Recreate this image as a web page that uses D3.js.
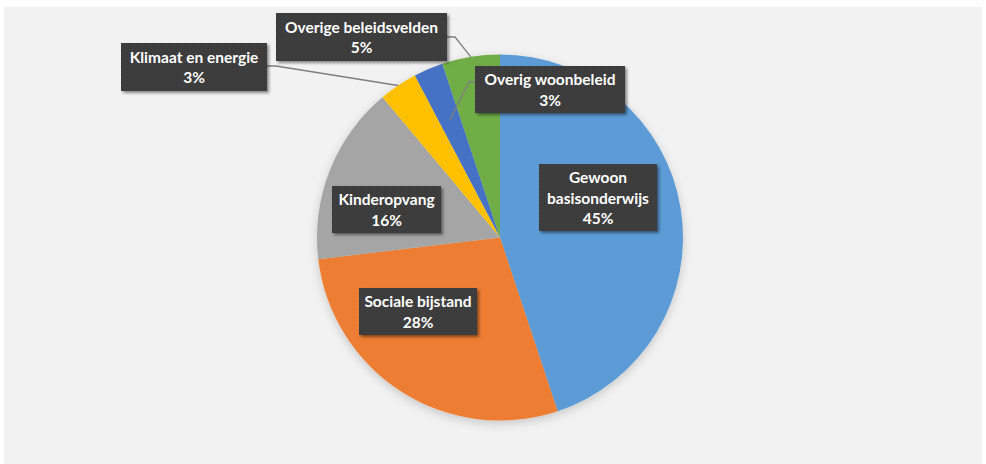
<!DOCTYPE html>
<html><head><meta charset="utf-8">
<script src="https://cdn.jsdelivr.net/npm/d3@7"></script>
<style>
html,body{margin:0;padding:0;background:#fff;}
svg{display:block;}
</style></head>
<body>
<svg id="chart" width="986" height="464"></svg>
<script>
// ---- data ----
const categories = ["Gewoon basisonderwijs","Sociale bijstand","Kinderopvang","Klimaat en energie","Overig woonbeleid","Overige beleidsvelden"];
const labelLines = [["Gewoon","basisonderwijs"],["Sociale bijstand"],["Kinderopvang"],["Klimaat en energie"],["Overig woonbeleid"],["Overige beleidsvelden"]];
const values = [44.9, 28.2, 15.8, 3.4, 2.6, 5.1];
const colors = ["#5B9BD5","#ED7D31","#A5A5A5","#FFC000","#4472C4","#70AD47"];

// ---- layout ----
const W = 986, H = 464;
const cx = 500, cy = 237.5, R = 183;
const boxes = [
  {x:539, y:164, w:118, h:67},
  {x:359, y:288, w:118, h:47},
  {x:332, y:186, w:109, h:47},
  {x:121, y:43,  w:146, h:48},
  {x:475, y:66,  w:150, h:47},
  {x:276, y:13,  w:171, h:48}
];
// leader: [start point on box, elbow, radius factor for anchor]
const leaders = [null, null, null,
  {p:[267,66], e:[276,66], rf:1.0},
  {p:[475,82], e:[469,82], rf:0.7},
  {p:[447,37], e:[455,37], rf:1.0}
];

const svg = d3.select("#chart");
const defs = svg.append("defs");
const pat = defs.append("pattern").attr("id","dots").attr("width",4).attr("height",4).attr("patternUnits","userSpaceOnUse");
pat.append("rect").attr("width",4).attr("height",4).attr("fill","#3b3b3b");
pat.append("rect").attr("x",1).attr("y",1).attr("width",1).attr("height",1).attr("fill","#4d4d4d");
pat.append("rect").attr("x",3).attr("y",3).attr("width",1).attr("height",1).attr("fill","#474747");

const sh = defs.append("filter").attr("id","boxshadow").attr("x","-20%").attr("y","-20%").attr("width","150%").attr("height","160%");
sh.append("feDropShadow").attr("dx",2).attr("dy",2).attr("stdDeviation",1.8).attr("flood-color","#000").attr("flood-opacity",0.45);
const psh = defs.append("filter").attr("id","pieshadow").attr("x","-20%").attr("y","-20%").attr("width","140%").attr("height","140%");
psh.append("feDropShadow").attr("dx",0).attr("dy",3).attr("stdDeviation",5).attr("flood-color","#000").attr("flood-opacity",0.18);

// panel
svg.append("rect").attr("x",4).attr("y",7).attr("width",978).attr("height",H-7).attr("fill","#f2f2f2");

const pie = d3.pie().value(d=>d).sort(null).startAngle(0).endAngle(2*Math.PI);
const arcs = pie(values);
const arc = d3.arc().innerRadius(0).outerRadius(R);

const g = svg.append("g").attr("transform",`translate(${cx},${cy})`);
g.append("g").attr("filter","url(#pieshadow)")
 .selectAll("path").data(arcs).join("path")
 .attr("d",arc).attr("fill",(d,i)=>colors[i]);

// leader lines
arcs.forEach((a,i)=>{
  const L = leaders[i];
  if(!L) return;
  const mid = (a.startAngle+a.endAngle)/2;
  const r = R*L.rf;
  const ax = cx + r*Math.sin(mid), ay = cy - r*Math.cos(mid);
  svg.append("polyline")
    .attr("points",[L.p, L.e, [ax,ay]].map(p=>p.join(",")).join(" "))
    .attr("fill","none").attr("stroke","#7f7f7f").attr("stroke-width",1.3);
});

// label boxes
const fmt = v => Math.round(v) + "%";
arcs.forEach((a,i)=>{
  const b = boxes[i];
  const lg = svg.append("g");
  lg.append("rect").attr("x",b.x).attr("y",b.y).attr("width",b.w).attr("height",b.h)
    .attr("fill","url(#dots)").attr("filter","url(#boxshadow)");
  const lines = labelLines[i].concat([fmt(values[i])]);
  const lh = 20.5;
  const startY = b.y + b.h/2 - (lines.length-1)*lh/2;
  lines.forEach((t,k)=>{
    lg.append("text").attr("x",b.x+b.w/2).attr("y",startY+k*lh)
      .attr("text-anchor","middle").attr("dominant-baseline","central")
      .attr("fill","#ffffff").attr("font-family","Lato, 'Open Sans', sans-serif")
      .attr("font-weight",700).attr("font-size","15.5px").text(t);
  });
});
</script>
</body></html>
